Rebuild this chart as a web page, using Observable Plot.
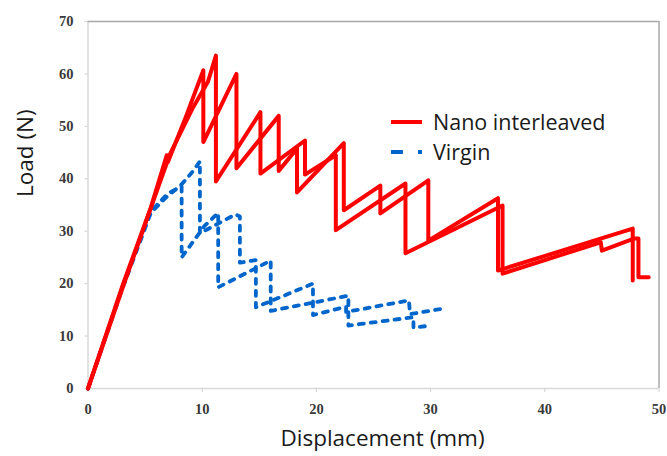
<!DOCTYPE html>
<html>
<head>
<meta charset="utf-8">
<script src="https://cdn.jsdelivr.net/npm/d3@7"></script>
<script src="https://cdn.jsdelivr.net/npm/@observablehq/plot@0.6"></script>
<style>
  html, body { margin: 0; padding: 0; background: #fff; }
  #wrap { position: relative; width: 667px; height: 456px; }
  #legend { position: absolute; left: 0; top: 0; pointer-events: none; }
</style>
</head>
<body>
<div id="wrap"></div>
<script>
// ---- data ----
const xDomain = [0, 50];
const yDomain = [0, 70];
const xTicks = [0, 10, 20, 30, 40, 50];
const yTicks = [0, 10, 20, 30, 40, 50, 60, 70];
const xLabel = "Displacement (mm)";
const yLabel = "Load (N)";
const seriesNames = ["Nano interleaved", "Virgin"];

// Nano interleaved, specimen A  [displacement mm, load N]
const nanoA = [[0,0],[3,19.5],[5.5,34.5],[6.9,44.5],[7.0,43.2],[8.6,52],[10.1,60.7],[10.1,47.0],
  [13.0,60.0],[13.0,42.0],[16.7,52.0],[16.7,41.5],[18.3,45.8],[18.3,37.4],[22.4,46.8],[22.4,34.0],
  [25.6,38.7],[25.6,33.4],[29.8,39.7],[29.8,28.2],[35.9,36.3],[35.9,22.5],[47.7,30.5],[47.7,20.6]];
// Nano interleaved, specimen B
const nanoB = [[0,0],[3,19],[6,37.5],[7.2,44.8],[9.2,53.6],[10.5,58.5],[11.2,63.5],[11.2,39.5],
  [15.1,52.7],[15.1,41.0],[19.0,47.3],[19.0,40.8],[21.7,44.5],[21.7,30.2],[27.8,39.1],[27.8,25.8],
  [36.3,34.9],[36.3,21.9],[44.9,27.9],[45.0,26.3],[47.8,28.6],[48.2,28.6],[48.2,21.2],[49.1,21.2]];
// Virgin, specimen 1
const virgin1 = [[0,0],[3,19],[5.5,33.5],[7,36.8],[8.1,38.7],[9.1,41.2],[9.8,43.3],[9.8,29.6],
  [12.9,33.2],[13.3,32.8],[13.3,24.0],[14.7,24.5],[14.7,15.5],[19.7,20.0],[19.7,14.0],[22.6,15.6],
  [22.6,14.6],[28.1,16.8],[28.2,14.2],[31.3,15.3]];
// Virgin, specimen 2
const virgin2 = [[0,0],[3,19.3],[5.5,33.8],[7,37.2],[8.2,38.5],[8.2,25.0],[10.2,31.0],[11.4,33.5],
  [11.4,19.3],[16.0,24.4],[16.0,14.8],[22.8,17.7],[22.8,12.0],[28.5,13.6],[28.5,11.6],[29.6,11.9]];

const colors = {"Nano interleaved": "#ff0000", "Virgin": "#0066cc"};

// ---- build rows ----
function rows(pts, spec) { return pts.map(([x, y]) => ({x, y, spec})); }
const nanoRows = [...rows(nanoA, "A"), ...rows(nanoB, "B")];
const virginRows = [...rows(virgin1, "1"), ...rows(virgin2, "2")];

const tickFont = {fontFamily: "Liberation Serif, serif", fontWeight: "bold", fontSize: 14.5, fill: "#3a3a3a"};
const titleFont = {fontFamily: "Open Sans, sans-serif", fontSize: 22.5, fill: "#1a1a1a"};

const chart = Plot.plot({
  width: 667,
  height: 456,
  marginLeft: 87.5,
  marginRight: 8.5,
  marginTop: 21,
  marginBottom: 68,
  x: {domain: xDomain},
  y: {domain: yDomain},
  style: {background: "#fff", overflow: "visible"},
  marks: [
    Plot.ruleX([xDomain[0]], {stroke: "#d9d9d9", strokeWidth: 1.5}),
    Plot.ruleY([yDomain[0]], {stroke: "#d9d9d9", strokeWidth: 1.5}),
    Plot.ruleY([yDomain[1]], {stroke: "#a8a8a8", strokeWidth: 1.5}),
    Plot.ruleX([xDomain[1]], {stroke: "#a8a8a8", strokeWidth: 1.5}),
    Plot.axisX(xTicks, {tickSize: 4, tickPadding: 11, stroke: "#d0d0d0", label: null, ...tickFont}),
    Plot.axisY(yTicks, {tickSize: 3, tickPadding: 11.5, stroke: "#d0d0d0", label: null, ...tickFont}),
    Plot.line(virginRows, {x: "x", y: "y", z: "spec", stroke: colors["Virgin"], strokeWidth: 3.8,
      strokeDasharray: "5,7", strokeLinecap: "round", strokeLinejoin: "round"}),
    Plot.line(nanoRows, {x: "x", y: "y", z: "spec", stroke: colors["Nano interleaved"], strokeWidth: 4,
      strokeLinejoin: "round"}),
    Plot.text([xLabel], {frameAnchor: "bottom", dy: 50, dx: 9, lineAnchor: "middle", ...titleFont}),
    Plot.text([yLabel], {frameAnchor: "left", dx: -62, dy: -8, rotate: -90, lineAnchor: "middle", ...titleFont})
  ]
});
document.getElementById("wrap").appendChild(chart);

// ---- legend ----
const leg = d3.select("#wrap").append("svg").attr("id", "legend").attr("width", 667).attr("height", 456);
const items = [
  {name: seriesNames[0], y: 122, dash: null},
  {name: seriesNames[1], y: 152, dash: "12,15"}
];
items.forEach(it => {
  const ln = leg.append("line").attr("x1", 391).attr("x2", 422).attr("y1", it.y).attr("y2", it.y)
    .attr("stroke", colors[it.name]).attr("stroke-width", 4);
  if (it.dash) ln.attr("stroke-dasharray", it.dash);
  leg.append("text").attr("x", 433).attr("y", it.y).attr("dy", "0.35em")
    .attr("font-family", "Open Sans, sans-serif").attr("font-size", 21.5).attr("fill", "#1a1a1a")
    .text(it.name);
});
</script>
</body>
</html>
